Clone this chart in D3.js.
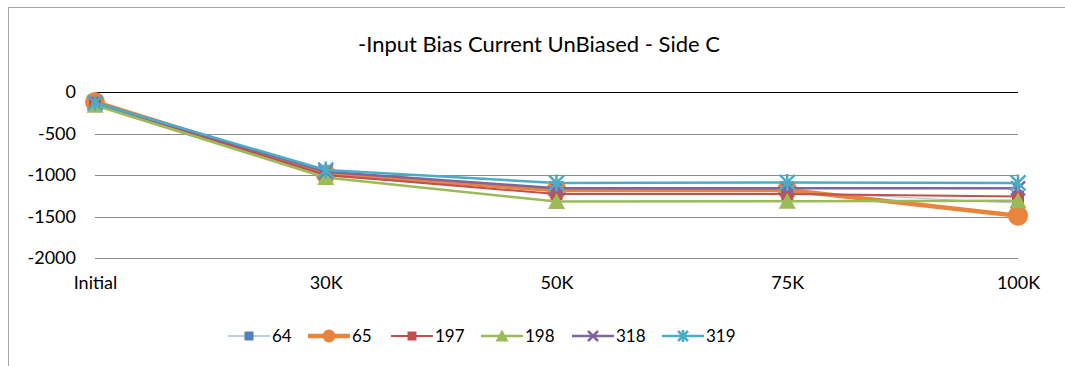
<!DOCTYPE html>
<html>
<head>
<meta charset="utf-8">
<script src="https://cdn.jsdelivr.net/npm/d3@7"></script>
<style>
  body { margin: 0; background: #fff; }
  svg { display: block; font-family: Lato, "Open Sans", "Liberation Sans", sans-serif; }
</style>
</head>
<body>
<svg id="chart" width="1065" height="366"></svg>
<script>
// Test stages along the x axis
const categories = ["Initial", "30K", "50K", "75K", "100K"];
// Y axis ticks
const yTicks = [0, -500, -1000, -1500, -2000];
// Input bias current per device (nA)
const s64  = [-130, -990, -1200, -1200, -1340];
const s65  = [-120, -990, -1180, -1180, -1490];
const s197 = [-130, -1000, -1230, -1230, -1260];
const s198 = [-160, -1030, -1320, -1315, -1310];
const s318 = [-130, -960, -1160, -1160, -1160];
const s319 = [-130, -940, -1095, -1090, -1095];

const series = [
  { name: "64",  values: s64,  line: "#A7BFDE", marker: "#4F81BD", width: 1,   shape: "square" },
  { name: "65",  values: s65,  line: "#E9843C", marker: "#E9843C", width: 4.5, shape: "circle" },
  { name: "197", values: s197, line: "#C0504D", marker: "#C0504D", width: 2,   shape: "square" },
  { name: "198", values: s198, line: "#9BBB59", marker: "#9BBB59", width: 2.5, shape: "triangle" },
  { name: "318", values: s318, line: "#8064A2", marker: "#8064A2", width: 2.5, shape: "x" },
  { name: "319", values: s319, line: "#4BACC6", marker: "#4BACC6", width: 2.5, shape: "star" }
];

const FONT = "Lato, \"Open Sans\", \"Liberation Sans\", sans-serif";
const svg = d3.select("#chart");

// Chart frame
svg.append("rect")
  .attr("x", 8.5).attr("y", 7.5).attr("width", 1070).attr("height", 400)
  .attr("fill", "none").attr("stroke", "#A6A6A6").attr("stroke-width", 1);

// Title
svg.append("text")
  .attr("x", 539).attr("y", 52)
  .attr("text-anchor", "middle")
  .attr("font-size", 22)
  .attr("fill", "#000")
  .text("-Input Bias Current UnBiased - Side C");

const x = d3.scalePoint().domain(categories).range([95, 1018]);
const y = d3.scaleLinear().domain([-2000, 0]).range([258, 92]);

// Horizontal gridlines
svg.append("g")
  .selectAll("line")
  .data(yTicks.filter(d => d !== 0))
  .join("line")
  .attr("x1", x.range()[0]).attr("x2", x.range()[1])
  .attr("y1", d => Math.round(y(d)) + 0.5).attr("y2", d => Math.round(y(d)) + 0.5)
  .attr("stroke", "#8C8C8C").attr("stroke-width", 1);

// Category axis line at zero
svg.append("line")
  .attr("x1", x.range()[0]).attr("x2", x.range()[1])
  .attr("y1", Math.round(y(0)) + 0.5).attr("y2", Math.round(y(0)) + 0.5)
  .attr("stroke", "#000").attr("stroke-width", 1);

// Y axis labels
const yAxis = d3.axisLeft(y).tickValues(yTicks).tickFormat(d => String(d)).tickSize(0).tickPadding(0);
const gy = svg.append("g").attr("transform", "translate(76,0)").call(yAxis);
gy.select(".domain").remove();
gy.selectAll("text").attr("font-size", 18).attr("fill", "#000").attr("font-family", FONT);

// X axis labels at the bottom
const xAxis = d3.axisBottom(x).tickSize(0).tickPadding(0);
const gx = svg.append("g").attr("transform", "translate(0,276)").call(xAxis);
gx.select(".domain").remove();
gx.selectAll("text").attr("font-size", 18).attr("fill", "#000").attr("font-family", FONT);

function drawMarker(g, shape, color, size) {
  if (shape === "square") {
    g.append("rect").attr("x", -size / 2).attr("y", -size / 2)
      .attr("width", size).attr("height", size).attr("fill", color);
  } else if (shape === "circle") {
    g.append("circle").attr("r", size / 2 + 1.5).attr("fill", color);
  } else if (shape === "triangle") {
    const h = size + 2;
    g.append("path").attr("d", `M0,${-h / 2 - 1}L${h / 2 + 1},${h / 2}L${-h / 2 - 1},${h / 2}Z`).attr("fill", color);
  } else if (shape === "x") {
    const r = size / 2 + 0.5;
    g.append("path").attr("d", `M${-r},${-r}L${r},${r}M${-r},${r}L${r},${-r}`)
      .attr("stroke", color).attr("stroke-width", 2.5).attr("fill", "none");
  } else if (shape === "star") {
    const r = size / 2 + 0.5;
    g.append("path").attr("d", `M${-r},${-r}L${r},${r}M${-r},${r}L${r},${-r}M0,${-r - 1}L0,${r + 1}`)
      .attr("stroke", color).attr("stroke-width", 2.5).attr("fill", "none");
  }
}

const line = d3.line().x((d, i) => x(categories[i])).y(d => y(d));

// Marker size on the plot, per shape
const plotSize = { square: 12, circle: 17, triangle: 13, x: 13, star: 14 };

// Series lines and markers
series.forEach(s => {
  const g = svg.append("g");
  g.append("path").datum(s.values)
    .attr("d", line)
    .attr("fill", "none")
    .attr("stroke", s.line)
    .attr("stroke-width", s.width)
    .attr("stroke-linejoin", "round");
  s.values.forEach((v, i) => {
    const m = g.append("g").attr("transform", `translate(${x(categories[i])},${y(v)})`);
    drawMarker(m, s.shape, s.marker, plotSize[s.shape]);
  });
});

// Legend
const legendX = [228, 308, 391, 481, 572, 662];
series.forEach((s, i) => {
  const g = svg.append("g").attr("transform", `translate(${legendX[i]},336)`);
  g.append("line").attr("x1", 0).attr("x2", 42).attr("y1", 0).attr("y2", 0)
    .attr("stroke", s.line).attr("stroke-width", s.width === 1 ? 1.5 : s.width);
  const m = g.append("g").attr("transform", "translate(21,0)");
  drawMarker(m, s.shape, s.marker, s.shape === "circle" ? 10 : 9);
  g.append("text").attr("x", 44).attr("y", 6)
    .attr("font-size", 17).attr("fill", "#000").text(s.name);
});
</script>
</body>
</html>
